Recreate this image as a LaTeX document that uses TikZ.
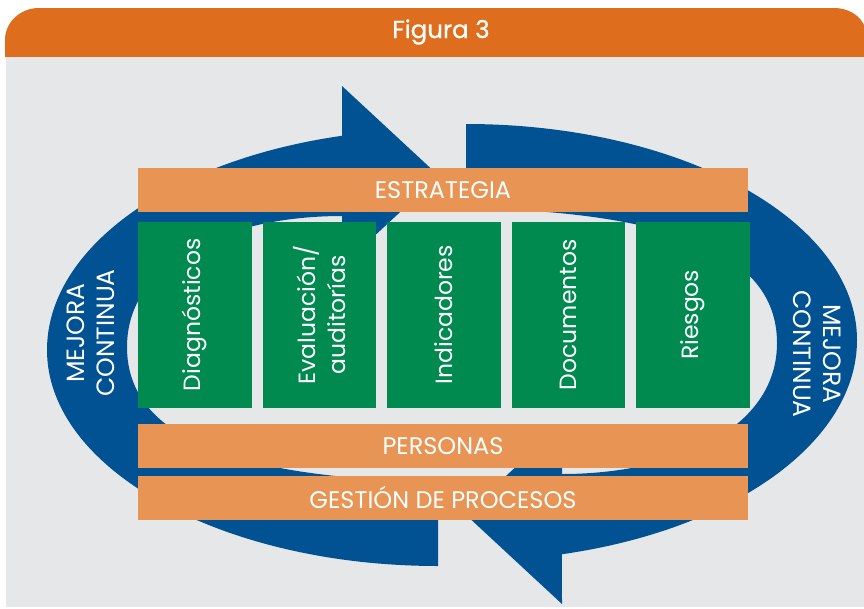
\documentclass[tikz,border=0pt]{standalone}
\usepackage{fontspec}
\setmainfont{Poppins}
\newfontfamily\titlefont[FakeBold=0.8]{Poppins}
\definecolor{hdr}{RGB}{222,110,30}
\definecolor{barc}{RGB}{232,148,84}
\definecolor{grn}{RGB}{0,138,80}
\definecolor{blu}{RGB}{0,82,147}
\definecolor{bgc}{RGB}{230,231,233}
\newcommand{\bluearrowpath}{%
  \fill[blu] (438,-566) arc[start angle=270,end angle=180,x radius=391,y radius=216]
    arc[start angle=180,end angle=104.2,x radius=391,y radius=221]
    -- (342,-86) -- (439,-176) -- (342,-266) -- (342,-216)
    .. controls (230,-216) and (127,-260) .. (127,-347)
    .. controls (127,-440) and (240,-478) .. (438,-482) -- cycle;}
\begin{document}
\begin{tikzpicture}[x=1pt,y=1pt,
  barbox/.style={fill=barc, minimum width=610pt, minimum height=43.6pt, inner sep=0pt, text=white, font=\fontsize{24}{28}\selectfont},
  greenbox/.style={fill=grn, rotate=90, minimum width=185.7pt, minimum height=113.5pt, inner sep=0pt, text=white, align=center, font=\fontsize{23.5}{30}\selectfont},
  looptext/.style={text=white, align=center, inner sep=0pt, font=\fontsize{25}{30}\selectfont}]
\useasboundingbox (0,0) rectangle (864,-608);
\fill[white] (0,0) rectangle (864,-608);
% header
\fill[hdr] (5,-57) -- (5,-40) arc[start angle=180,end angle=90,x radius=34,y radius=32]
  -- (834,-8) arc[start angle=90,end angle=0,x radius=32,y radius=26] -- (866,-57) -- cycle;
\node[text=white, font=\titlefont\fontsize{24.5}{28}\selectfont] (title) at (441,-32) {Figura 3};
% panel
\fill[bgc] (6,-57) rectangle (870,-607);
% arrows
\bluearrowpath
\begin{scope}[rotate around={180:(452,-345)}]
\bluearrowpath
\end{scope}
% bars
\node[barbox] (estr) at (443,-189.8) {ESTRATEGIA};
\node[barbox] (pers) at (443,-445.8) {PERSONAS};
\node[barbox] (gest) at (443,-497.7) {GESTIÓN DE PROCESOS};
% green boxes
\node[greenbox] (diag) at (194.75,-314.8) {Diagnósticos};
\node[greenbox] (eval) at (319.25,-314.8) {Evaluación/\\auditorías};
\node[greenbox] (indi) at (443.75,-314.8) {Indicadores};
\node[greenbox] (docu) at (568.25,-314.8) {Documentos};
\node[greenbox] (ries) at (692.75,-314.8) {Riesgos};
% loop labels
\node[looptext, rotate=90] (mcl) at (91,-333) {MEJORA\\CONTINUA};
\node[looptext, rotate=-90] (mcr) at (817,-354) {MEJORA\\CONTINUA};
\end{tikzpicture}
\end{document}
